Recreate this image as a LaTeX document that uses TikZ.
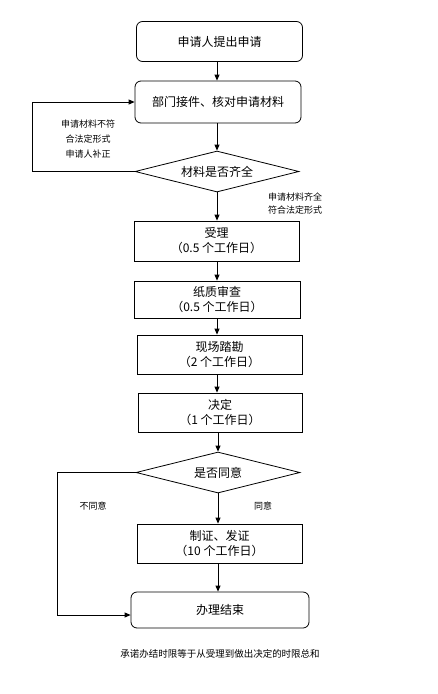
\documentclass[tikz,border=0pt]{standalone}
\usepackage{fontspec}
\newfontfamily\cjk{Noto Sans CJK SC}
\usetikzlibrary{shapes.geometric,arrows.meta}
\begin{document}
\begin{tikzpicture}[x=1pt,y=-1pt,
  font=\cjk\fontsize{12}{15}\selectfont,
  line width=0.8pt,
  arr/.style={-{Triangle[length=6pt,width=5pt]}},
  rbox/.style={draw,rounded corners=6pt,inner sep=0pt,align=center},
  sbox/.style={draw,inner sep=0pt,align=center},
  dec/.style={draw,diamond,shape aspect=4,inner sep=0pt,minimum width=164pt,minimum height=41pt},
  small/.style={font=\cjk\fontsize{9}{15}\selectfont,align=center,inner sep=0pt},
]
\useasboundingbox (0,0) rectangle (437,694);
\coordinate (axis) at (217,0);

\node[rbox,minimum width=166pt,minimum height=40pt] (n1) at (219.5,41.5) {申请人提出申请};
\node[rbox,minimum width=166pt,minimum height=42pt] (n2) at (218,102) {部门接件、核对申请材料};
\node[dec] (d1) at (217,171.5) {材料是否齐全};
\node[sbox,minimum width=165pt,minimum height=40pt] (s1) at (216.5,241) {受理\\（0.5 个工作日）};
\node[sbox,minimum width=166pt,minimum height=37pt] (s2) at (217,299.5) {纸质审查\\（0.5 个工作日）};
\node[sbox,minimum width=165pt,minimum height=39pt] (s3) at (219.5,354.5) {现场踏勘\\（2 个工作日）};
\node[sbox,minimum width=164pt,minimum height=39pt] (s4) at (220,412.5) {决定\\（1 个工作日）};
\node[dec] (d2) at (218,472.5) {是否同意};
\node[sbox,minimum width=165pt,minimum height=39pt] (s5) at (219.5,543.5) {制证、发证\\（10 个工作日）};
\node[rbox,minimum width=178pt,minimum height=36pt] (e) at (220,610) {办理结束};

\node[small,font=\cjk\fontsize{9.5}{12}\selectfont] (foot) at (220,654) {承诺办结时限等于从受理到做出决定的时限总和};
\node[small] (lbl1) at (88,139.5) {申请材料不符\\合法定形式\\申请人补正};
\node[small,font=\cjk\fontsize{9}{13.5}\selectfont] (lbl2) at (295,203.5) {申请材料齐全\\符合法定形式};
\node[small] (lbl3) at (93,506) {不同意};
\node[small] (lbl4) at (263,506) {同意};

\draw[arr] (n1.south -| axis) -- (n2.north -| axis);
\draw[arr] (n2.south -| axis) -- (d1.north);
\draw[arr] (d1.south) -- (s1.north -| d1.south);
\draw[arr] (s1.south -| axis) -- (s2.north -| axis);
\draw[arr] (s2.south -| axis) -- (s3.north -| axis);
\draw[arr] (s3.south -| axis) -- (s4.north -| axis);
\draw[arr] (s4.south -| d2.north) -- (d2.north);
\draw[arr] (d2.south) -- (s5.north -| d2.south);
\draw[arr] (s5.south -| d2.south) -- (e.north -| d2.south);

\coordinate (l1) at (32,0);
\draw[arr] (d1.west) -- (d1.west -| l1) -- (n2.west -| l1) -- (n2.west);
\coordinate (l2) at (57,615);
\draw[arr] (d2.west) -- (d2.west -| l2) -- (l2) -- (l2 -| e.west);
\end{tikzpicture}
\end{document}
